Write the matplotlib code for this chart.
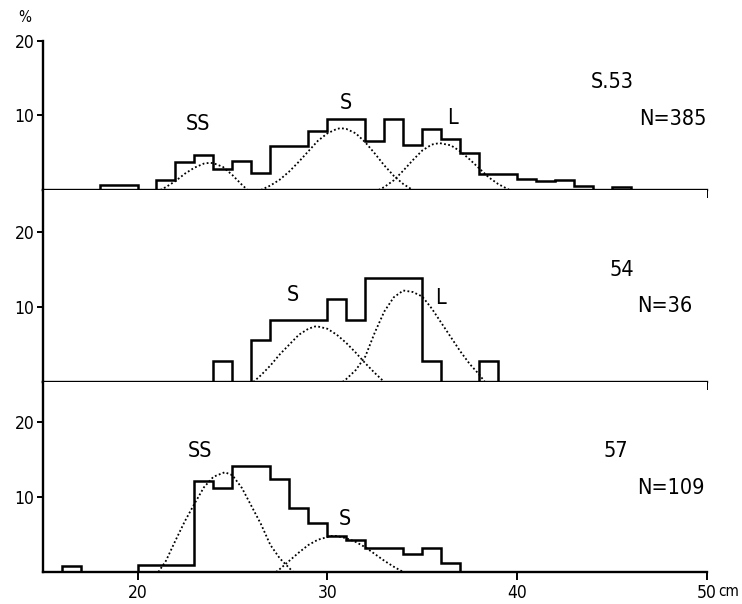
import matplotlib.pyplot as plt
import numpy as np

# histogram bins (1 cm classes) and percentages
edges_53 = np.arange(18, 47)
pct_53 = [0.65, 0.65, 0, 1.4, 3.8, 4.7, 2.8, 3.9, 2.3, 5.9, 5.9, 7.9, 9.5, 9.5,
          6.6, 9.5, 6.1, 8.2, 6.9, 4.9, 2.2, 2.1, 1.5, 1.2, 1.4, 0.6, 0, 0.45]

edges_54 = np.arange(24, 40)
pct_54 = [2.78, 0, 5.56, 8.33, 8.33, 8.33, 11.1, 8.33, 13.9, 13.9, 13.9, 2.78,
          0, 0, 2.78]

edges_57 = np.arange(16, 38)
pct_57 = [0.85, 0, 0, 0, 0.92, 0.92, 0.92, 12.2, 11.2, 14.2, 14.2, 12.4, 8.6,
          6.6, 4.8, 4.3, 3.2, 3.2, 2.4, 3.2, 1.2]

# dotted component curves (cm, %), read point by point
ss53_x = [21.2, 21.5, 22, 22.5, 23, 23.5, 23.8, 24, 24.5, 25, 25.5, 25.8]
ss53_y = [0, 0.4, 1.2, 2.2, 3.0, 3.55, 3.65, 3.6, 3.1, 2.0, 0.7, 0]
s53_x = [26.5, 27, 27.5, 28, 28.5, 29, 29.5, 30, 30.5, 30.7, 31, 31.5, 32, 32.5,
         33, 33.5, 34, 34.5]
s53_y = [0, 0.6, 1.4, 2.5, 3.8, 5.2, 6.6, 7.6, 8.2, 8.3, 8.2, 7.6, 6.4, 4.9,
         3.3, 1.9, 0.8, 0]
l53_x = [32.7, 33, 33.5, 34, 34.5, 35, 35.5, 35.9, 36.5, 37, 37.5, 38, 38.5, 39,
         39.6]
l53_y = [0, 0.4, 1.3, 2.6, 4.0, 5.3, 6.1, 6.3, 6.0, 5.2, 4.1, 2.9, 1.7, 0.8, 0]

s54_x = [26.1, 26.5, 27, 27.5, 28, 28.5, 29, 29.35, 29.5, 30, 30.5, 31, 31.5,
         32, 32.5, 33]
s54_y = [0, 0.9, 2.2, 3.7, 5.0, 6.3, 7.1, 7.4, 7.4, 7.1, 6.3, 5.2, 3.9, 2.5,
         1.2, 0]
l54_x = [30.8, 31, 31.5, 32, 32.5, 33, 33.5, 34, 34.5, 35, 35.5, 36, 36.5, 37,
         37.5, 38, 38.3]
l54_y = [0, 0.4, 1.6, 3.4, 6.6, 9.4, 11.3, 12.2, 12.0, 11.4, 9.8, 7.9, 6.0,
         4.1, 2.4, 1.0, 0]

ss57_x = [21.1, 21.5, 22, 22.5, 23, 23.5, 24, 24.6, 25, 25.5, 26, 26.5, 27,
          27.5, 28.2]
ss57_y = [0, 1.5, 4.2, 6.8, 9.1, 11.3, 12.7, 13.3, 12.9, 11.2, 8.8, 6.4, 3.6,
          1.8, 0]
s57_x = [27.3, 27.5, 28, 28.5, 29, 29.5, 30.2, 30.5, 31, 31.5, 32, 32.5, 33,
         33.5, 34]
s57_y = [0, 0.4, 1.5, 2.6, 3.6, 4.3, 4.8, 4.8, 4.5, 4.0, 3.3, 2.4, 1.5, 0.7, 0]

panel_labels = [
    [("SS", 23.2, 8.8), ("S", 31.0, 11.7), ("L", 36.6, 9.7),
     ("S.53", 45.0, 14.5), ("N=385", 48.2, 9.5)],
    [("S", 28.2, 11.6), ("L", 35.95, 11.2), ("54", 45.5, 14.9),
     ("N=36", 47.8, 10.2)],
    [("SS", 23.3, 16.1), ("S", 30.9, 7.1), ("57", 45.2, 16.1),
     ("N=109", 48.1, 11.2)],
]

W, H = 742, 604
plt.rcParams['font.family'] = ['DejaVu Sans']
plt.rcParams['font.stretch'] = 'condensed'
fig = plt.figure(figsize=(W / 100, H / 100), dpi=100)
fig.patch.set_facecolor('white')

LEFT, RIGHT = 42.6, 707
# (top px, bottom px, ymax)
rows = [(41, 190, 20), (190, 382, 192 / 7.5), (382, 572, 190 / 7.5)]
hists = [(edges_53, pct_53), (edges_54, pct_54), (edges_57, pct_57)]
curves = [[(ss53_x, ss53_y), (s53_x, s53_y), (l53_x, l53_y)],
          [(s54_x, s54_y), (l54_x, l54_y)],
          [(ss57_x, ss57_y), (s57_x, s57_y)]]

for i, (top, bot, ymax) in enumerate(rows):
    ax = fig.add_axes([LEFT / W, 1 - bot / H, (RIGHT - LEFT) / W, (bot - top) / H])
    ax.set_xlim(15, 50)
    ax.set_ylim(0, ymax)
    for s in ['top', 'right']:
        ax.spines[s].set_visible(False)
    for s in ['left', 'bottom']:
        ax.spines[s].set_linewidth(1.7)
    ax.set_xticks([20, 30, 40, 50])
    ax.set_yticks([10, 20])
    ax.tick_params(axis='x', direction='out', length=6, width=1.4, pad=3,
                   labelsize=12.5, labelbottom=(i == 2))
    ax.tick_params(axis='y', direction='out', length=4, width=1.4, pad=2,
                   labelsize=12.5)
    ed, pc = hists[i]
    ax.stairs(pc, ed, baseline=0, color='black', lw=1.8)
    for cx, cy in curves[i]:
        ax.plot(cx, cy, color='black', lw=1.3, linestyle=(0, (1, 1.3)))
    for txt, x, y in panel_labels[i]:
        ax.text(x, y, txt, ha='center', va='center', fontsize=15.5, clip_on=False)

fig.text(24.6 / W, 1 - 18 / H, '%', ha='center', va='center', fontsize=11)
fig.text(729 / W, 1 - 592 / H, 'cm', ha='center', va='center', fontsize=11)

fig.savefig('out.png', dpi=100, facecolor='white')
